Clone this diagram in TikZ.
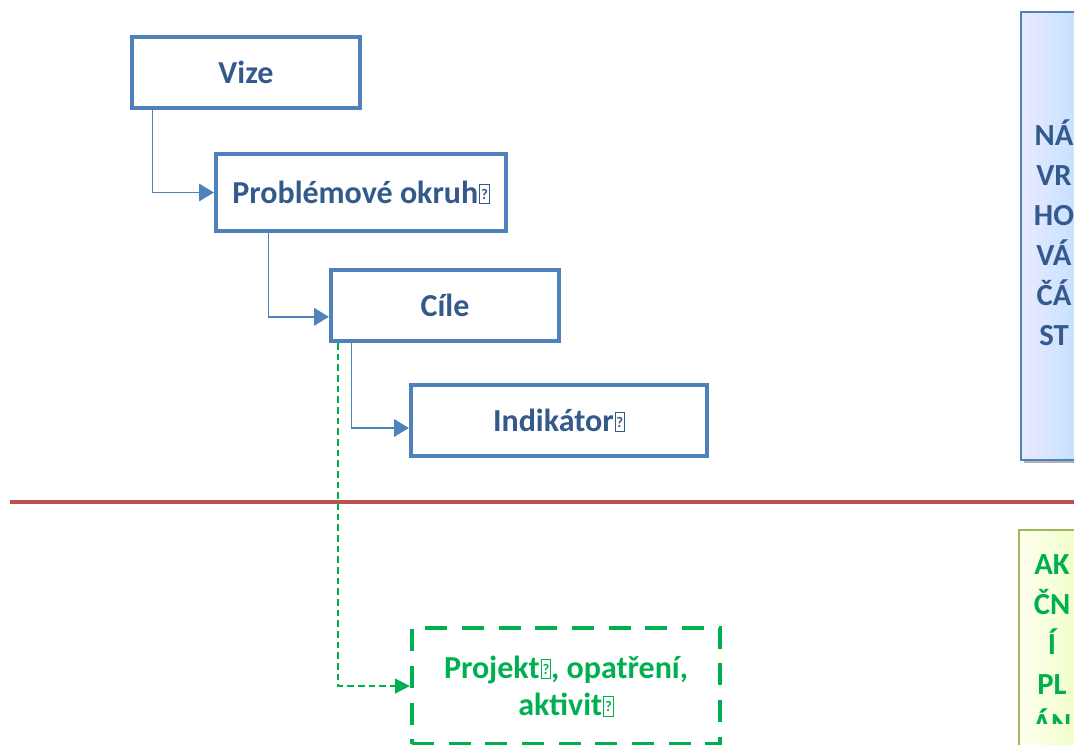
\documentclass[tikz,border=0pt]{standalone}
\usepackage{fontspec}
\setmainfont{Carlito}
\usetikzlibrary{arrows.meta}

\definecolor{boxblue}{RGB}{79,129,189}
\definecolor{textblue}{RGB}{52,90,140}
\definecolor{actgreen}{RGB}{0,176,80}
\definecolor{linered}{RGB}{192,80,77}
\definecolor{leafgreen}{RGB}{155,187,89}

% missing glyph as printed in the picture
\newcommand{\nglyph}{\kern0.8pt{\setlength\fboxsep{0pt}\setlength\fboxrule{0.6pt}%
\fbox{\makebox[6.5pt]{\rule{0pt}{14pt}\raisebox{3pt}{\fontsize{11}{11}\selectfont ?}}}}}

\tikzset{
  levelbox/.style={draw=boxblue, line width=3.2pt, fill=white, text=textblue,
    font=\fontsize{24}{28}\selectfont\bfseries, inner sep=0pt, minimum height=53.25pt},
  conn/.style={draw=boxblue, line width=1.4pt, -{Triangle[length=11pt,width=13pt]}},
}

\begin{document}
\begin{tikzpicture}[x=0.75pt, y=-0.75pt]
		\useasboundingbox (0,0) rectangle (1074,744);
		%draw side panels
		\fill[gray!60] (1024,15) rectangle (1110,463);
		\shade[left color=blue!8!white, right color=blue!45!cyan!32!white, draw=boxblue, line width=1.5pt]
		(1021,12) rectangle (1110,460);
		\node (navrh) [text=textblue, font=\fontsize{23}{30}\selectfont\bfseries, align=center]
		at (1054,233) {NÁ\\VR\\HO\\VÁ\\ČÁ\\ST};
		\shade[left color=green!4!yellow!6!white, right color=green!30!yellow!30!white, draw=leafgreen, line width=1.5pt]
		(1019,530) rectangle (1110,780);
		\begin{scope}
			\clip (1000,530) rectangle (1074,723);
			\node (akcni) [text=actgreen, font=\fontsize{23}{30}\selectfont\bfseries, align=center, anchor=north]
			at (1052,550) {AK\\ČN\\Í\\PL\\ÁN};
		\end{scope}
		%draw dividing line
		\draw[linered, line width=3.2pt] (10,502) -- (1074,502);
		%draw boxes
		\node (vize) [levelbox, minimum width=171pt] at (246,72.5) {Vize};
		\node (okruhy) [levelbox, minimum width=217.5pt, minimum height=57.75pt] at (361,192.5) {Problémové okruh\nglyph};
		\node (cile) [levelbox, minimum width=171pt] at (445,305.5) {Cíle};
		\node (indik) [levelbox, minimum width=222pt] at (559,420.5) {Indikátor\nglyph};
		\node (projekt) [draw=actgreen, line width=3.2pt, dash pattern=on 16.5pt off 11pt, text=actgreen,
		font=\fontsize{24}{28}\selectfont\bfseries, align=center, inner sep=0pt,
		minimum width=231pt, minimum height=87pt] at (566,686) {Projekt\nglyph, opatření,\\aktivit\nglyph};
		%draw arrows
		\draw[conn] ([xshift=17pt]vize.south west) |- (okruhy.west);
		\draw[conn] ([xshift=41pt]okruhy.south west) |- ([yshift=-8.5pt]cile.west);
		\draw[conn] ([xshift=17pt]cile.south west) |- ([yshift=-5.6pt]indik.west);
		\draw[actgreen, line width=1.3pt, dash pattern=on 5pt off 3pt,
		-{Triangle[length=11pt,width=11pt]}] ([xshift=7pt]cile.south west) |- (projekt.west);
\end{tikzpicture}
\end{document}
